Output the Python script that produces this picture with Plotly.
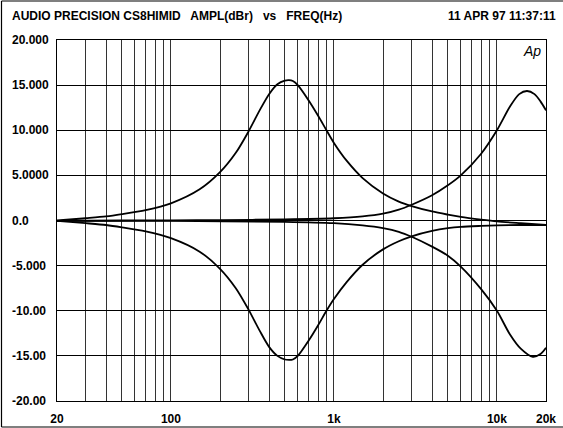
import math
import plotly.graph_objects as go

# ---------------- data ----------------
mid_boost_freq = [20, 30, 40, 50, 70, 100, 150, 200, 250, 300, 350, 400, 450, 500, 530, 560, 600,
                  700, 800, 900, 1000, 1200, 1500, 2000, 2500, 3000, 4000, 5000, 6000, 8000,
                  10000, 14000, 20000]
mid_boost_db = [0.0, 0.25, 0.45, 0.7, 1.15, 1.9, 3.45, 5.35, 7.5, 9.9, 12.2, 14.0, 15.1, 15.5, 15.55,
                15.45, 15.0, 13.3, 11.6, 10.0, 8.6, 6.6, 4.7, 3.0, 2.1, 1.6, 1.0, 0.65, 0.4, 0.1,
                -0.1, -0.3, -0.5]

mid_cut_freq = mid_boost_freq
mid_cut_db = [-0.05, -0.3, -0.5, -0.75, -1.2, -1.95, -3.45, -5.35, -7.5, -9.9, -12.2, -14.0, -15.0,
              -15.4, -15.45, -15.4, -15.0, -13.3, -11.6, -10.0, -8.7, -6.8, -4.9, -3.2, -2.3,
              -1.75, -1.15, -0.85, -0.7, -0.6, -0.55, -0.5, -0.5]

treble_boost_freq = [20, 50, 100, 200, 500, 1000, 1500, 2000, 2500, 3000, 4000, 5000, 6000, 8000,
                     10000, 12000, 13700, 15300, 17000, 18500, 20000]
treble_boost_db = [-0.05, 0.0, 0.02, 0.05, 0.12, 0.25, 0.45, 0.75, 1.2, 1.75, 2.8, 3.9, 5.0, 7.4,
                   10.0, 12.6, 14.0, 14.35, 14.0, 13.2, 12.2]

treble_cut_freq = [20, 100, 500, 1000, 1500, 2000, 2500, 3000, 4000, 5000, 6000, 8000, 10000,
                   12000, 14000, 16600, 18500, 20000]
treble_cut_db = [-0.05, -0.05, -0.15, -0.3, -0.55, -0.85, -1.25, -1.8, -2.9, -3.9, -5.1, -7.6,
                 -10.0, -12.6, -14.2, -15.1, -14.8, -14.1]

x_grid_vals = [20, 30, 40, 50, 60, 70, 80, 90, 100, 200, 300, 400, 500, 600, 700, 800, 900,
               1000, 2000, 3000, 4000, 5000, 6000, 7000, 8000, 9000, 10000, 20000]
x_tick_labels = {20: "20", 100: "100", 1000: "1k", 10000: "10k", 20000: "20k"}

y_tick_vals = [-20, -15, -10, -5, 0, 5, 10, 15, 20]
y_tick_labels = ["-20.00", "-15.00", "-10.00", "-5.000", "0.0", "5.0000", "10.000", "15.000", "20.000"]

title_left = "AUDIO PRECISION CS8HIMID   AMPL(dBr)   vs   FREQ(Hz)"
title_right = "11 APR 97 11:37:11"
logo_text = "Ap"

# ---------------- layout constants ----------------
W, H = 563, 428
ML, MR, MT, MB = 57, 17, 40, 27
PW, PH = W - ML - MR, H - MT - MB
FONT = "Liberation Sans Narrow, Arial Narrow, Liberation Sans, Arial"


def px_x(px):
    return (px - ML) / PW


def px_y(py):
    return (H - MB - py) / PH


fig = go.Figure()
for fx, fy in [(mid_boost_freq, mid_boost_db), (mid_cut_freq, mid_cut_db),
               (treble_boost_freq, treble_boost_db), (treble_cut_freq, treble_cut_db)]:
    fig.add_trace(go.Scatter(x=fx, y=fy, mode="lines",
                             line=dict(color="black", width=1.8, shape="spline", smoothing=0.8),
                             hoverinfo="skip", showlegend=False))

x_ticktext = [x_tick_labels.get(v, "") for v in x_grid_vals]

fig.update_xaxes(type="log", range=[math.log10(20) - 1e-6, math.log10(20000) + 1e-6],
                 tickvals=x_grid_vals, ticktext=x_ticktext,
                 showgrid=True, gridcolor="#333333", gridwidth=1,
                 showline=True, linecolor="black", linewidth=1, mirror=True,
                 ticks="", ticklabelstandoff=7, automargin=False,
                 tickfont=dict(family=FONT, size=12, color="black", weight="bold"),
                 zeroline=False, fixedrange=True)
fig.update_yaxes(range=[-20, 20], tickvals=y_tick_vals, showticklabels=False,
                 showgrid=True, gridcolor="black", gridwidth=1,
                 zeroline=True, zerolinecolor="black", zerolinewidth=1,
                 showline=True, linecolor="black", linewidth=1, mirror=True,
                 ticks="", automargin=False, fixedrange=True)

annotations = []
for v, t in zip(y_tick_vals, y_tick_labels):
    annotations.append(dict(xref="paper", yref="y", x=px_x(10), y=v, text=t, showarrow=False,
                            xanchor="left", yanchor="middle",
                            font=dict(family=FONT, size=12, color="black", weight="bold")))
annotations.append(dict(xref="paper", yref="paper", x=px_x(10), y=px_y(16), text=title_left,
                        showarrow=False, xanchor="left", yanchor="middle",
                        font=dict(family=FONT, size=12, color="black", weight="bold")))
annotations.append(dict(xref="paper", yref="paper", x=px_x(558), y=px_y(16), text=title_right,
                        showarrow=False, xanchor="right", yanchor="middle",
                        font=dict(family=FONT, size=12, color="black", weight="bold")))
annotations.append(dict(xref="paper", yref="paper", x=px_x(532), y=px_y(51), text=logo_text,
                        showarrow=False, xanchor="center", yanchor="middle",
                        font=dict(family="Liberation Sans, Arial", size=14, color="black",
                                  style="italic")))

shapes = [
    dict(type="line", xref="paper", yref="paper", x0=px_x(1.5), x1=px_x(1.5),
         y0=px_y(1), y1=px_y(427), line=dict(color="black", width=1.2)),
    dict(type="line", xref="paper", yref="paper", x0=px_x(1.5), x1=px_x(563),
         y0=px_y(1), y1=px_y(1), line=dict(color="black", width=1.2)),
    dict(type="line", xref="paper", yref="paper", x0=px_x(1.5), x1=px_x(563),
         y0=px_y(427), y1=px_y(427), line=dict(color="black", width=1.2)),
]

fig.update_layout(width=W, height=H, autosize=False,
                  margin=dict(l=ML, r=MR, t=MT, b=MB, pad=0, autoexpand=False),
                  paper_bgcolor="white", plot_bgcolor="white",
                  annotations=annotations, shapes=shapes, showlegend=False)

fig.write_html("out.html", config={"displayModeBar": False, "staticPlot": True},
               post_script="document.body.style.margin='0px';")
